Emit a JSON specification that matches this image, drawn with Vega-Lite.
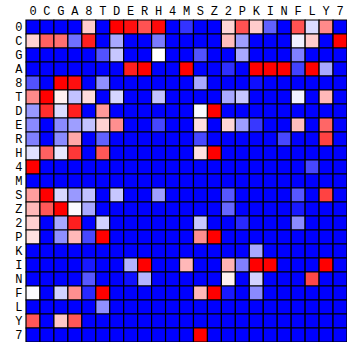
{
"$schema": "https://vega.github.io/schema/vega-lite/v6.json",
"autosize": "none",
"padding": {"left": 26, "top": 20, "right": 0, "bottom": 0},
"width": 321,
"height": 322,
"background": "white",
"data": {"values": [
{"r":"0","c":"0","v":0},{"r":"0","c":"C","v":0},{"r":"0","c":"G","v":0},{"r":"0","c":"A","v":0},{"r":"0","c":"8","v":0.6},{"r":"0","c":"T","v":0},{"r":"0","c":"D","v":1},{"r":"0","c":"E","v":0.97},{"r":"0","c":"R","v":0.84},{"r":"0","c":"H","v":0.98},{"r":"0","c":"4","v":0},{"r":"0","c":"M","v":0.1},{"r":"0","c":"S","v":0},{"r":"0","c":"Z","v":0},{"r":"0","c":"2","v":0.58},{"r":"0","c":"P","v":0.84},{"r":"0","c":"K","v":0.6},{"r":"0","c":"I","v":0.19},{"r":"0","c":"N","v":0},{"r":"0","c":"F","v":0.84},{"r":"0","c":"L","v":0.43},{"r":"0","c":"Y","v":0.73},{"r":"0","c":"7","v":0},
{"r":"C","c":"0","v":0.59},{"r":"C","c":"C","v":0.81},{"r":"C","c":"G","v":0.78},{"r":"C","c":"A","v":0.22},{"r":"C","c":"8","v":0.94},{"r":"C","c":"T","v":0},{"r":"C","c":"D","v":0.33},{"r":"C","c":"E","v":0},{"r":"C","c":"R","v":0},{"r":"C","c":"H","v":0.24},{"r":"C","c":"4","v":0},{"r":"C","c":"M","v":0},{"r":"C","c":"S","v":0},{"r":"C","c":"Z","v":0},{"r":"C","c":"2","v":0.63},{"r":"C","c":"P","v":0.31},{"r":"C","c":"K","v":0},{"r":"C","c":"I","v":0},{"r":"C","c":"N","v":0},{"r":"C","c":"F","v":0.47},{"r":"C","c":"L","v":0.6},{"r":"C","c":"Y","v":0},{"r":"C","c":"7","v":1},
{"r":"G","c":"0","v":0},{"r":"G","c":"C","v":0},{"r":"G","c":"G","v":0},{"r":"G","c":"A","v":0},{"r":"G","c":"8","v":0},{"r":"G","c":"T","v":0.16},{"r":"G","c":"D","v":0.39},{"r":"G","c":"E","v":0},{"r":"G","c":"R","v":0},{"r":"G","c":"H","v":0.5},{"r":"G","c":"4","v":0},{"r":"G","c":"M","v":0},{"r":"G","c":"S","v":0.16},{"r":"G","c":"Z","v":0},{"r":"G","c":"2","v":0},{"r":"G","c":"P","v":0.33},{"r":"G","c":"K","v":0},{"r":"G","c":"I","v":0},{"r":"G","c":"N","v":0},{"r":"G","c":"F","v":0.25},{"r":"G","c":"L","v":0},{"r":"G","c":"Y","v":0},{"r":"G","c":"7","v":0},
{"r":"A","c":"0","v":0},{"r":"A","c":"C","v":0},{"r":"A","c":"G","v":0},{"r":"A","c":"A","v":0},{"r":"A","c":"8","v":0},{"r":"A","c":"T","v":0},{"r":"A","c":"D","v":0},{"r":"A","c":"E","v":0.94},{"r":"A","c":"R","v":1},{"r":"A","c":"H","v":0},{"r":"A","c":"4","v":0},{"r":"A","c":"M","v":1},{"r":"A","c":"S","v":0},{"r":"A","c":"Z","v":0},{"r":"A","c":"2","v":0.09},{"r":"A","c":"P","v":0},{"r":"A","c":"K","v":1},{"r":"A","c":"I","v":1},{"r":"A","c":"N","v":1},{"r":"A","c":"F","v":0.13},{"r":"A","c":"L","v":1},{"r":"A","c":"Y","v":0.33},{"r":"A","c":"7","v":0},
{"r":"8","c":"0","v":0.16},{"r":"8","c":"C","v":0},{"r":"8","c":"G","v":1},{"r":"8","c":"A","v":0.97},{"r":"8","c":"8","v":0},{"r":"8","c":"T","v":0.28},{"r":"8","c":"D","v":0},{"r":"8","c":"E","v":0},{"r":"8","c":"R","v":0},{"r":"8","c":"H","v":0},{"r":"8","c":"4","v":0},{"r":"8","c":"M","v":0},{"r":"8","c":"S","v":0.33},{"r":"8","c":"Z","v":0},{"r":"8","c":"2","v":0},{"r":"8","c":"P","v":0},{"r":"8","c":"K","v":0.03},{"r":"8","c":"I","v":0},{"r":"8","c":"N","v":0},{"r":"8","c":"F","v":0},{"r":"8","c":"L","v":0},{"r":"8","c":"Y","v":0},{"r":"8","c":"7","v":0},
{"r":"T","c":"0","v":0.73},{"r":"T","c":"C","v":1},{"r":"T","c":"G","v":0.53},{"r":"T","c":"A","v":0.38},{"r":"T","c":"8","v":0.57},{"r":"T","c":"T","v":0},{"r":"T","c":"D","v":0.42},{"r":"T","c":"E","v":0},{"r":"T","c":"R","v":0},{"r":"T","c":"H","v":0.38},{"r":"T","c":"4","v":0},{"r":"T","c":"M","v":0},{"r":"T","c":"S","v":0},{"r":"T","c":"Z","v":0},{"r":"T","c":"2","v":0.33},{"r":"T","c":"P","v":0.39},{"r":"T","c":"K","v":0},{"r":"T","c":"I","v":0},{"r":"T","c":"N","v":0},{"r":"T","c":"F","v":0.47},{"r":"T","c":"L","v":0},{"r":"T","c":"Y","v":0.64},{"r":"T","c":"7","v":0},
{"r":"D","c":"0","v":0.3},{"r":"D","c":"C","v":0.91},{"r":"D","c":"G","v":0.43},{"r":"D","c":"A","v":0.94},{"r":"D","c":"8","v":0},{"r":"D","c":"T","v":0.7},{"r":"D","c":"D","v":0},{"r":"D","c":"E","v":0},{"r":"D","c":"R","v":0},{"r":"D","c":"H","v":0},{"r":"D","c":"4","v":0},{"r":"D","c":"M","v":0},{"r":"D","c":"S","v":0.49},{"r":"D","c":"Z","v":1},{"r":"D","c":"2","v":0},{"r":"D","c":"P","v":0},{"r":"D","c":"K","v":0},{"r":"D","c":"I","v":0},{"r":"D","c":"N","v":0},{"r":"D","c":"F","v":0},{"r":"D","c":"L","v":0},{"r":"D","c":"Y","v":0},{"r":"D","c":"7","v":0},
{"r":"E","c":"0","v":0.27},{"r":"E","c":"C","v":0},{"r":"E","c":"G","v":0.27},{"r":"E","c":"A","v":0.31},{"r":"E","c":"8","v":0.38},{"r":"E","c":"T","v":0.59},{"r":"E","c":"D","v":0.72},{"r":"E","c":"E","v":0},{"r":"E","c":"R","v":0},{"r":"E","c":"H","v":0.14},{"r":"E","c":"4","v":0},{"r":"E","c":"M","v":0},{"r":"E","c":"S","v":0.56},{"r":"E","c":"Z","v":0},{"r":"E","c":"2","v":0.58},{"r":"E","c":"P","v":0.31},{"r":"E","c":"K","v":0.11},{"r":"E","c":"I","v":0},{"r":"E","c":"N","v":0},{"r":"E","c":"F","v":0.63},{"r":"E","c":"L","v":0},{"r":"E","c":"Y","v":0.8},{"r":"E","c":"7","v":0},
{"r":"R","c":"0","v":0.25},{"r":"R","c":"C","v":0},{"r":"R","c":"G","v":0.27},{"r":"R","c":"A","v":0.67},{"r":"R","c":"8","v":0},{"r":"R","c":"T","v":0.19},{"r":"R","c":"D","v":0},{"r":"R","c":"E","v":0},{"r":"R","c":"R","v":0},{"r":"R","c":"H","v":0},{"r":"R","c":"4","v":0},{"r":"R","c":"M","v":0},{"r":"R","c":"S","v":0.14},{"r":"R","c":"Z","v":0},{"r":"R","c":"2","v":0},{"r":"R","c":"P","v":0},{"r":"R","c":"K","v":0},{"r":"R","c":"I","v":0},{"r":"R","c":"N","v":0.14},{"r":"R","c":"F","v":0},{"r":"R","c":"L","v":0},{"r":"R","c":"Y","v":0.87},{"r":"R","c":"7","v":0},
{"r":"H","c":"0","v":0.44},{"r":"H","c":"C","v":0.81},{"r":"H","c":"G","v":0.45},{"r":"H","c":"A","v":0.89},{"r":"H","c":"8","v":0},{"r":"H","c":"T","v":0.83},{"r":"H","c":"D","v":0},{"r":"H","c":"E","v":0},{"r":"H","c":"R","v":0},{"r":"H","c":"H","v":0},{"r":"H","c":"4","v":0},{"r":"H","c":"M","v":0},{"r":"H","c":"S","v":0.56},{"r":"H","c":"Z","v":1},{"r":"H","c":"2","v":0},{"r":"H","c":"P","v":0},{"r":"H","c":"K","v":0},{"r":"H","c":"I","v":0},{"r":"H","c":"N","v":0},{"r":"H","c":"F","v":0},{"r":"H","c":"L","v":0},{"r":"H","c":"Y","v":0},{"r":"H","c":"7","v":0},
{"r":"4","c":"0","v":1},{"r":"4","c":"C","v":0},{"r":"4","c":"G","v":0},{"r":"4","c":"A","v":0},{"r":"4","c":"8","v":0},{"r":"4","c":"T","v":0},{"r":"4","c":"D","v":0},{"r":"4","c":"E","v":0},{"r":"4","c":"R","v":0},{"r":"4","c":"H","v":0},{"r":"4","c":"4","v":0},{"r":"4","c":"M","v":0},{"r":"4","c":"S","v":0},{"r":"4","c":"Z","v":0},{"r":"4","c":"2","v":0},{"r":"4","c":"P","v":0},{"r":"4","c":"K","v":0},{"r":"4","c":"I","v":0},{"r":"4","c":"N","v":0},{"r":"4","c":"F","v":0},{"r":"4","c":"L","v":0.14},{"r":"4","c":"Y","v":0},{"r":"4","c":"7","v":0},
{"r":"M","c":"0","v":0},{"r":"M","c":"C","v":0},{"r":"M","c":"G","v":0},{"r":"M","c":"A","v":0},{"r":"M","c":"8","v":0},{"r":"M","c":"T","v":0},{"r":"M","c":"D","v":0},{"r":"M","c":"E","v":0},{"r":"M","c":"R","v":0},{"r":"M","c":"H","v":0},{"r":"M","c":"4","v":0},{"r":"M","c":"M","v":0},{"r":"M","c":"S","v":0},{"r":"M","c":"Z","v":0},{"r":"M","c":"2","v":0},{"r":"M","c":"P","v":0},{"r":"M","c":"K","v":0},{"r":"M","c":"I","v":0},{"r":"M","c":"N","v":0},{"r":"M","c":"F","v":0},{"r":"M","c":"L","v":0},{"r":"M","c":"Y","v":0},{"r":"M","c":"7","v":0},
{"r":"S","c":"0","v":0.69},{"r":"S","c":"C","v":1},{"r":"S","c":"G","v":0.42},{"r":"S","c":"A","v":0.3},{"r":"S","c":"8","v":0.38},{"r":"S","c":"T","v":0},{"r":"S","c":"D","v":0.39},{"r":"S","c":"E","v":0},{"r":"S","c":"R","v":0},{"r":"S","c":"H","v":0.31},{"r":"S","c":"4","v":0},{"r":"S","c":"M","v":0},{"r":"S","c":"S","v":0},{"r":"S","c":"Z","v":0},{"r":"S","c":"2","v":0.17},{"r":"S","c":"P","v":0},{"r":"S","c":"K","v":0},{"r":"S","c":"I","v":0},{"r":"S","c":"N","v":0},{"r":"S","c":"F","v":0.17},{"r":"S","c":"L","v":0},{"r":"S","c":"Y","v":0.87},{"r":"S","c":"7","v":0},
{"r":"Z","c":"0","v":0.64},{"r":"Z","c":"C","v":0.83},{"r":"Z","c":"G","v":1},{"r":"Z","c":"A","v":0.49},{"r":"Z","c":"8","v":0.33},{"r":"Z","c":"T","v":0},{"r":"Z","c":"D","v":0},{"r":"Z","c":"E","v":0},{"r":"Z","c":"R","v":0},{"r":"Z","c":"H","v":0},{"r":"Z","c":"4","v":0},{"r":"Z","c":"M","v":0},{"r":"Z","c":"S","v":0},{"r":"Z","c":"Z","v":0},{"r":"Z","c":"2","v":0.2},{"r":"Z","c":"P","v":0},{"r":"Z","c":"K","v":0},{"r":"Z","c":"I","v":0},{"r":"Z","c":"N","v":0},{"r":"Z","c":"F","v":0.05},{"r":"Z","c":"L","v":0},{"r":"Z","c":"Y","v":0},{"r":"Z","c":"7","v":0},
{"r":"2","c":"0","v":0.59},{"r":"2","c":"C","v":0},{"r":"2","c":"G","v":0.33},{"r":"2","c":"A","v":0.94},{"r":"2","c":"8","v":0},{"r":"2","c":"T","v":0.41},{"r":"2","c":"D","v":0},{"r":"2","c":"E","v":0},{"r":"2","c":"R","v":0},{"r":"2","c":"H","v":0},{"r":"2","c":"4","v":0},{"r":"2","c":"M","v":0},{"r":"2","c":"S","v":0.39},{"r":"2","c":"Z","v":0},{"r":"2","c":"2","v":0},{"r":"2","c":"P","v":0.08},{"r":"2","c":"K","v":0},{"r":"2","c":"I","v":0},{"r":"2","c":"N","v":0},{"r":"2","c":"F","v":0.27},{"r":"2","c":"L","v":0},{"r":"2","c":"Y","v":0},{"r":"2","c":"7","v":0},
{"r":"P","c":"0","v":0.56},{"r":"P","c":"C","v":0},{"r":"P","c":"G","v":0.28},{"r":"P","c":"A","v":0.64},{"r":"P","c":"8","v":0.14},{"r":"P","c":"T","v":1},{"r":"P","c":"D","v":0},{"r":"P","c":"E","v":0},{"r":"P","c":"R","v":0},{"r":"P","c":"H","v":0},{"r":"P","c":"4","v":0},{"r":"P","c":"M","v":0},{"r":"P","c":"S","v":0.72},{"r":"P","c":"Z","v":1},{"r":"P","c":"2","v":0},{"r":"P","c":"P","v":0},{"r":"P","c":"K","v":0},{"r":"P","c":"I","v":0},{"r":"P","c":"N","v":0},{"r":"P","c":"F","v":0},{"r":"P","c":"L","v":0},{"r":"P","c":"Y","v":0},{"r":"P","c":"7","v":0},
{"r":"K","c":"0","v":0},{"r":"K","c":"C","v":0},{"r":"K","c":"G","v":0},{"r":"K","c":"A","v":0},{"r":"K","c":"8","v":0},{"r":"K","c":"T","v":0},{"r":"K","c":"D","v":0},{"r":"K","c":"E","v":0},{"r":"K","c":"R","v":0},{"r":"K","c":"H","v":0},{"r":"K","c":"4","v":0},{"r":"K","c":"M","v":0},{"r":"K","c":"S","v":0},{"r":"K","c":"Z","v":0},{"r":"K","c":"2","v":0},{"r":"K","c":"P","v":0},{"r":"K","c":"K","v":0.33},{"r":"K","c":"I","v":0},{"r":"K","c":"N","v":0},{"r":"K","c":"F","v":0},{"r":"K","c":"L","v":0},{"r":"K","c":"Y","v":0},{"r":"K","c":"7","v":0},
{"r":"I","c":"0","v":0},{"r":"I","c":"C","v":0},{"r":"I","c":"G","v":0},{"r":"I","c":"A","v":0},{"r":"I","c":"8","v":0.05},{"r":"I","c":"T","v":0},{"r":"I","c":"D","v":0},{"r":"I","c":"E","v":0.35},{"r":"I","c":"R","v":1},{"r":"I","c":"H","v":0},{"r":"I","c":"4","v":0},{"r":"I","c":"M","v":0.64},{"r":"I","c":"S","v":0},{"r":"I","c":"Z","v":0},{"r":"I","c":"2","v":0.65},{"r":"I","c":"P","v":0.25},{"r":"I","c":"K","v":1},{"r":"I","c":"I","v":1},{"r":"I","c":"N","v":0},{"r":"I","c":"F","v":0},{"r":"I","c":"L","v":0},{"r":"I","c":"Y","v":1},{"r":"I","c":"7","v":0},
{"r":"N","c":"0","v":0},{"r":"N","c":"C","v":0},{"r":"N","c":"G","v":0},{"r":"N","c":"A","v":0},{"r":"N","c":"8","v":0.17},{"r":"N","c":"T","v":0},{"r":"N","c":"D","v":0},{"r":"N","c":"E","v":0.03},{"r":"N","c":"R","v":0.35},{"r":"N","c":"H","v":0},{"r":"N","c":"4","v":0},{"r":"N","c":"M","v":0},{"r":"N","c":"S","v":0},{"r":"N","c":"Z","v":0},{"r":"N","c":"2","v":0.53},{"r":"N","c":"P","v":0},{"r":"N","c":"K","v":0.41},{"r":"N","c":"I","v":0},{"r":"N","c":"N","v":0},{"r":"N","c":"F","v":0},{"r":"N","c":"L","v":0.86},{"r":"N","c":"Y","v":0},{"r":"N","c":"7","v":0},
{"r":"F","c":"0","v":0.49},{"r":"F","c":"C","v":0},{"r":"F","c":"G","v":0.41},{"r":"F","c":"A","v":0.72},{"r":"F","c":"8","v":0.08},{"r":"F","c":"T","v":1},{"r":"F","c":"D","v":0},{"r":"F","c":"E","v":0},{"r":"F","c":"R","v":0},{"r":"F","c":"H","v":0},{"r":"F","c":"4","v":0},{"r":"F","c":"M","v":0},{"r":"F","c":"S","v":0.64},{"r":"F","c":"Z","v":1},{"r":"F","c":"2","v":0.05},{"r":"F","c":"P","v":0},{"r":"F","c":"K","v":0.27},{"r":"F","c":"I","v":0},{"r":"F","c":"N","v":0},{"r":"F","c":"F","v":0},{"r":"F","c":"L","v":0},{"r":"F","c":"Y","v":0},{"r":"F","c":"7","v":0},
{"r":"L","c":"0","v":0},{"r":"L","c":"C","v":0},{"r":"L","c":"G","v":0},{"r":"L","c":"A","v":0},{"r":"L","c":"8","v":0},{"r":"L","c":"T","v":0.28},{"r":"L","c":"D","v":0},{"r":"L","c":"E","v":0},{"r":"L","c":"R","v":0},{"r":"L","c":"H","v":0},{"r":"L","c":"4","v":0},{"r":"L","c":"M","v":0},{"r":"L","c":"S","v":0},{"r":"L","c":"Z","v":0},{"r":"L","c":"2","v":0},{"r":"L","c":"P","v":0},{"r":"L","c":"K","v":0},{"r":"L","c":"I","v":0},{"r":"L","c":"N","v":0},{"r":"L","c":"F","v":0},{"r":"L","c":"L","v":0},{"r":"L","c":"Y","v":0},{"r":"L","c":"7","v":0},
{"r":"Y","c":"0","v":0.83},{"r":"Y","c":"C","v":0},{"r":"Y","c":"G","v":0.61},{"r":"Y","c":"A","v":0.83},{"r":"Y","c":"8","v":0},{"r":"Y","c":"T","v":0},{"r":"Y","c":"D","v":0},{"r":"Y","c":"E","v":0},{"r":"Y","c":"R","v":0},{"r":"Y","c":"H","v":0},{"r":"Y","c":"4","v":0},{"r":"Y","c":"M","v":0},{"r":"Y","c":"S","v":0},{"r":"Y","c":"Z","v":0},{"r":"Y","c":"2","v":0},{"r":"Y","c":"P","v":0},{"r":"Y","c":"K","v":0},{"r":"Y","c":"I","v":0},{"r":"Y","c":"N","v":0},{"r":"Y","c":"F","v":0},{"r":"Y","c":"L","v":0},{"r":"Y","c":"Y","v":0},{"r":"Y","c":"7","v":0},
{"r":"7","c":"0","v":0},{"r":"7","c":"C","v":0},{"r":"7","c":"G","v":0},{"r":"7","c":"A","v":0},{"r":"7","c":"8","v":0},{"r":"7","c":"T","v":0},{"r":"7","c":"D","v":0},{"r":"7","c":"E","v":0},{"r":"7","c":"R","v":0},{"r":"7","c":"H","v":0},{"r":"7","c":"4","v":0},{"r":"7","c":"M","v":0},{"r":"7","c":"S","v":1},{"r":"7","c":"Z","v":0},{"r":"7","c":"2","v":0},{"r":"7","c":"P","v":0},{"r":"7","c":"K","v":0},{"r":"7","c":"I","v":0},{"r":"7","c":"N","v":0},{"r":"7","c":"F","v":0},{"r":"7","c":"L","v":0},{"r":"7","c":"Y","v":0},{"r":"7","c":"7","v":0}
]},
"mark": {"type": "rect", "stroke": "black", "strokeWidth": 1.2},
"encoding": {
"x": {"field": "c", "type": "nominal", "title": null,
 "scale": {"domain": ["0","C","G","A","8","T","D","E","R","H","4","M","S","Z","2","P","K","I","N","F","L","Y","7"], "paddingInner": 0, "paddingOuter": 0},
 "axis": {"orient": "top", "ticks": false, "domain": false, "labelAngle": 0, "labelPadding": 3, "labelFont": "Liberation Mono", "labelFontSize": 12, "labelColor": "black"}},
"y": {"field": "r", "type": "nominal", "title": null,
 "scale": {"domain": ["0","C","G","A","8","T","D","E","R","H","4","M","S","Z","2","P","K","I","N","F","L","Y","7"], "paddingInner": 0, "paddingOuter": 0},
 "axis": {"ticks": false, "domain": false, "labelPadding": 4, "labelFont": "Liberation Mono", "labelFontSize": 12, "labelColor": "black"}},
"color": {"field": "v", "type": "quantitative", "legend": null,
 "scale": {"domain": [0, 0.5, 1], "range": ["#0000ff", "#ffffff", "#ff0000"], "interpolate": "rgb"}}
},
"config": {"view": {"stroke": null}}
}
